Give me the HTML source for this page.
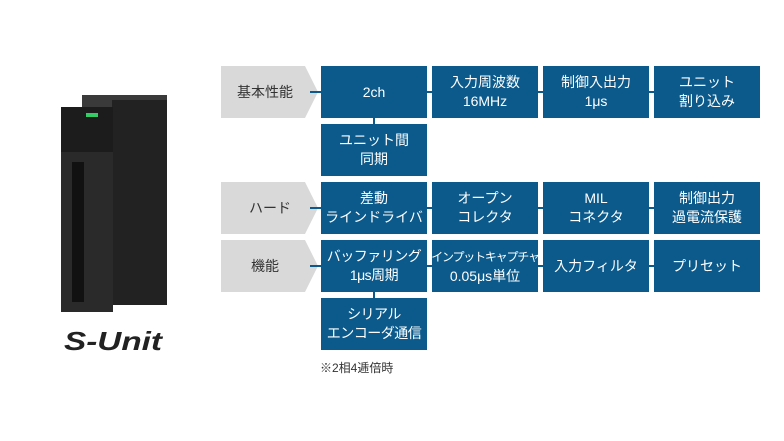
<!DOCTYPE html>
<html><head><meta charset="utf-8"><style>
body{margin:0;width:784px;height:441px;background:#fff;position:relative;overflow:hidden;font-family:"Liberation Sans","Noto Sans CJK JP",sans-serif}
.b{position:absolute;width:106px;height:52px;background:#0b5a8b;color:#fff;font-size:14px;line-height:19px;display:flex;align-items:center;justify-content:center;text-align:center;white-space:nowrap}
.g{position:absolute;left:221px;width:97px;height:52px;background:#d9d9d9;clip-path:polygon(0 0,84px 0,97px 50%,84px 100%,0 100%);font-size:14px;color:#333;display:flex;align-items:center;padding-left:16px;box-sizing:border-box}
.h{position:absolute;height:2px;background:#0b5a8b}
.v{position:absolute;width:2px;background:#0b5a8b}
</style></head><body>
<!-- device -->
<div style="position:absolute;left:82px;top:95px;width:85px;height:12px;background:#3a3a3a"></div>
<div style="position:absolute;left:112px;top:100px;width:55px;height:205px;background:#222;"></div>
<div style="position:absolute;left:61px;top:107px;width:52px;height:205px;background:#2a2a2a"></div>
<div style="position:absolute;left:61px;top:107px;width:52px;height:45px;background:#1c1c1c"></div>
<div style="position:absolute;left:86px;top:113px;width:12px;height:4px;background:#3c6"></div>
<div style="position:absolute;left:72px;top:162px;width:12px;height:140px;background:#111"></div>
<div style="position:absolute;left:64px;top:326px;font-size:26px;font-weight:bold;font-style:italic;color:#222;transform:scaleX(1.28);transform-origin:0 0">S-Unit</div>
<!-- labels -->
<div class="g" style="top:66px">基本性能</div>
<div class="g" style="top:182px;padding-left:28px">ハード</div>
<div class="g" style="top:240px;padding-left:30px">機能</div>
<!-- connectors -->
<div class="h" style="left:310px;top:91px;width:450px"></div>
<div class="h" style="left:310px;top:207px;width:450px"></div>
<div class="h" style="left:310px;top:265px;width:450px"></div>
<div class="v" style="left:373px;top:110px;height:20px"></div>
<div class="v" style="left:373px;top:286px;height:20px"></div>
<!-- boxes -->
<div class="b" style="left:321px;top:66px">2ch</div>
<div class="b" style="left:432px;top:66px">入力周波数<br>16MHz</div>
<div style="position:absolute;left:526px;top:65px;font-size:9px;color:#0b5a8b">※</div>
<div class="b" style="left:543px;top:66px">制御入出力<br>1μs</div>
<div class="b" style="left:654px;top:66px">ユニット<br>割り込み</div>
<div class="b" style="left:321px;top:124px">ユニット間<br>同期</div>
<div class="b" style="left:321px;top:182px">差動<br>ラインドライバ</div>
<div class="b" style="left:432px;top:182px">オープン<br>コレクタ</div>
<div class="b" style="left:543px;top:182px">MIL<br>コネクタ</div>
<div class="b" style="left:654px;top:182px">制御出力<br>過電流保護</div>
<div class="b" style="left:321px;top:240px;letter-spacing:-0.5px">バッファリング<br>1μs周期</div>
<div class="b" style="left:432px;top:240px"><div><span style="font-size:12px;letter-spacing:-1.2px">インプットキャプチャ</span><br>0.05μs単位</div></div>
<div class="b" style="left:543px;top:240px">入力フィルタ</div>
<div class="b" style="left:654px;top:240px">プリセット</div>
<div class="b" style="left:321px;top:298px;letter-spacing:-0.5px">シリアル<br>エンコーダ通信</div>
<div style="position:absolute;left:320px;top:359px;font-size:12px;color:#333">※2相4逓倍時</div>
</body></html>
